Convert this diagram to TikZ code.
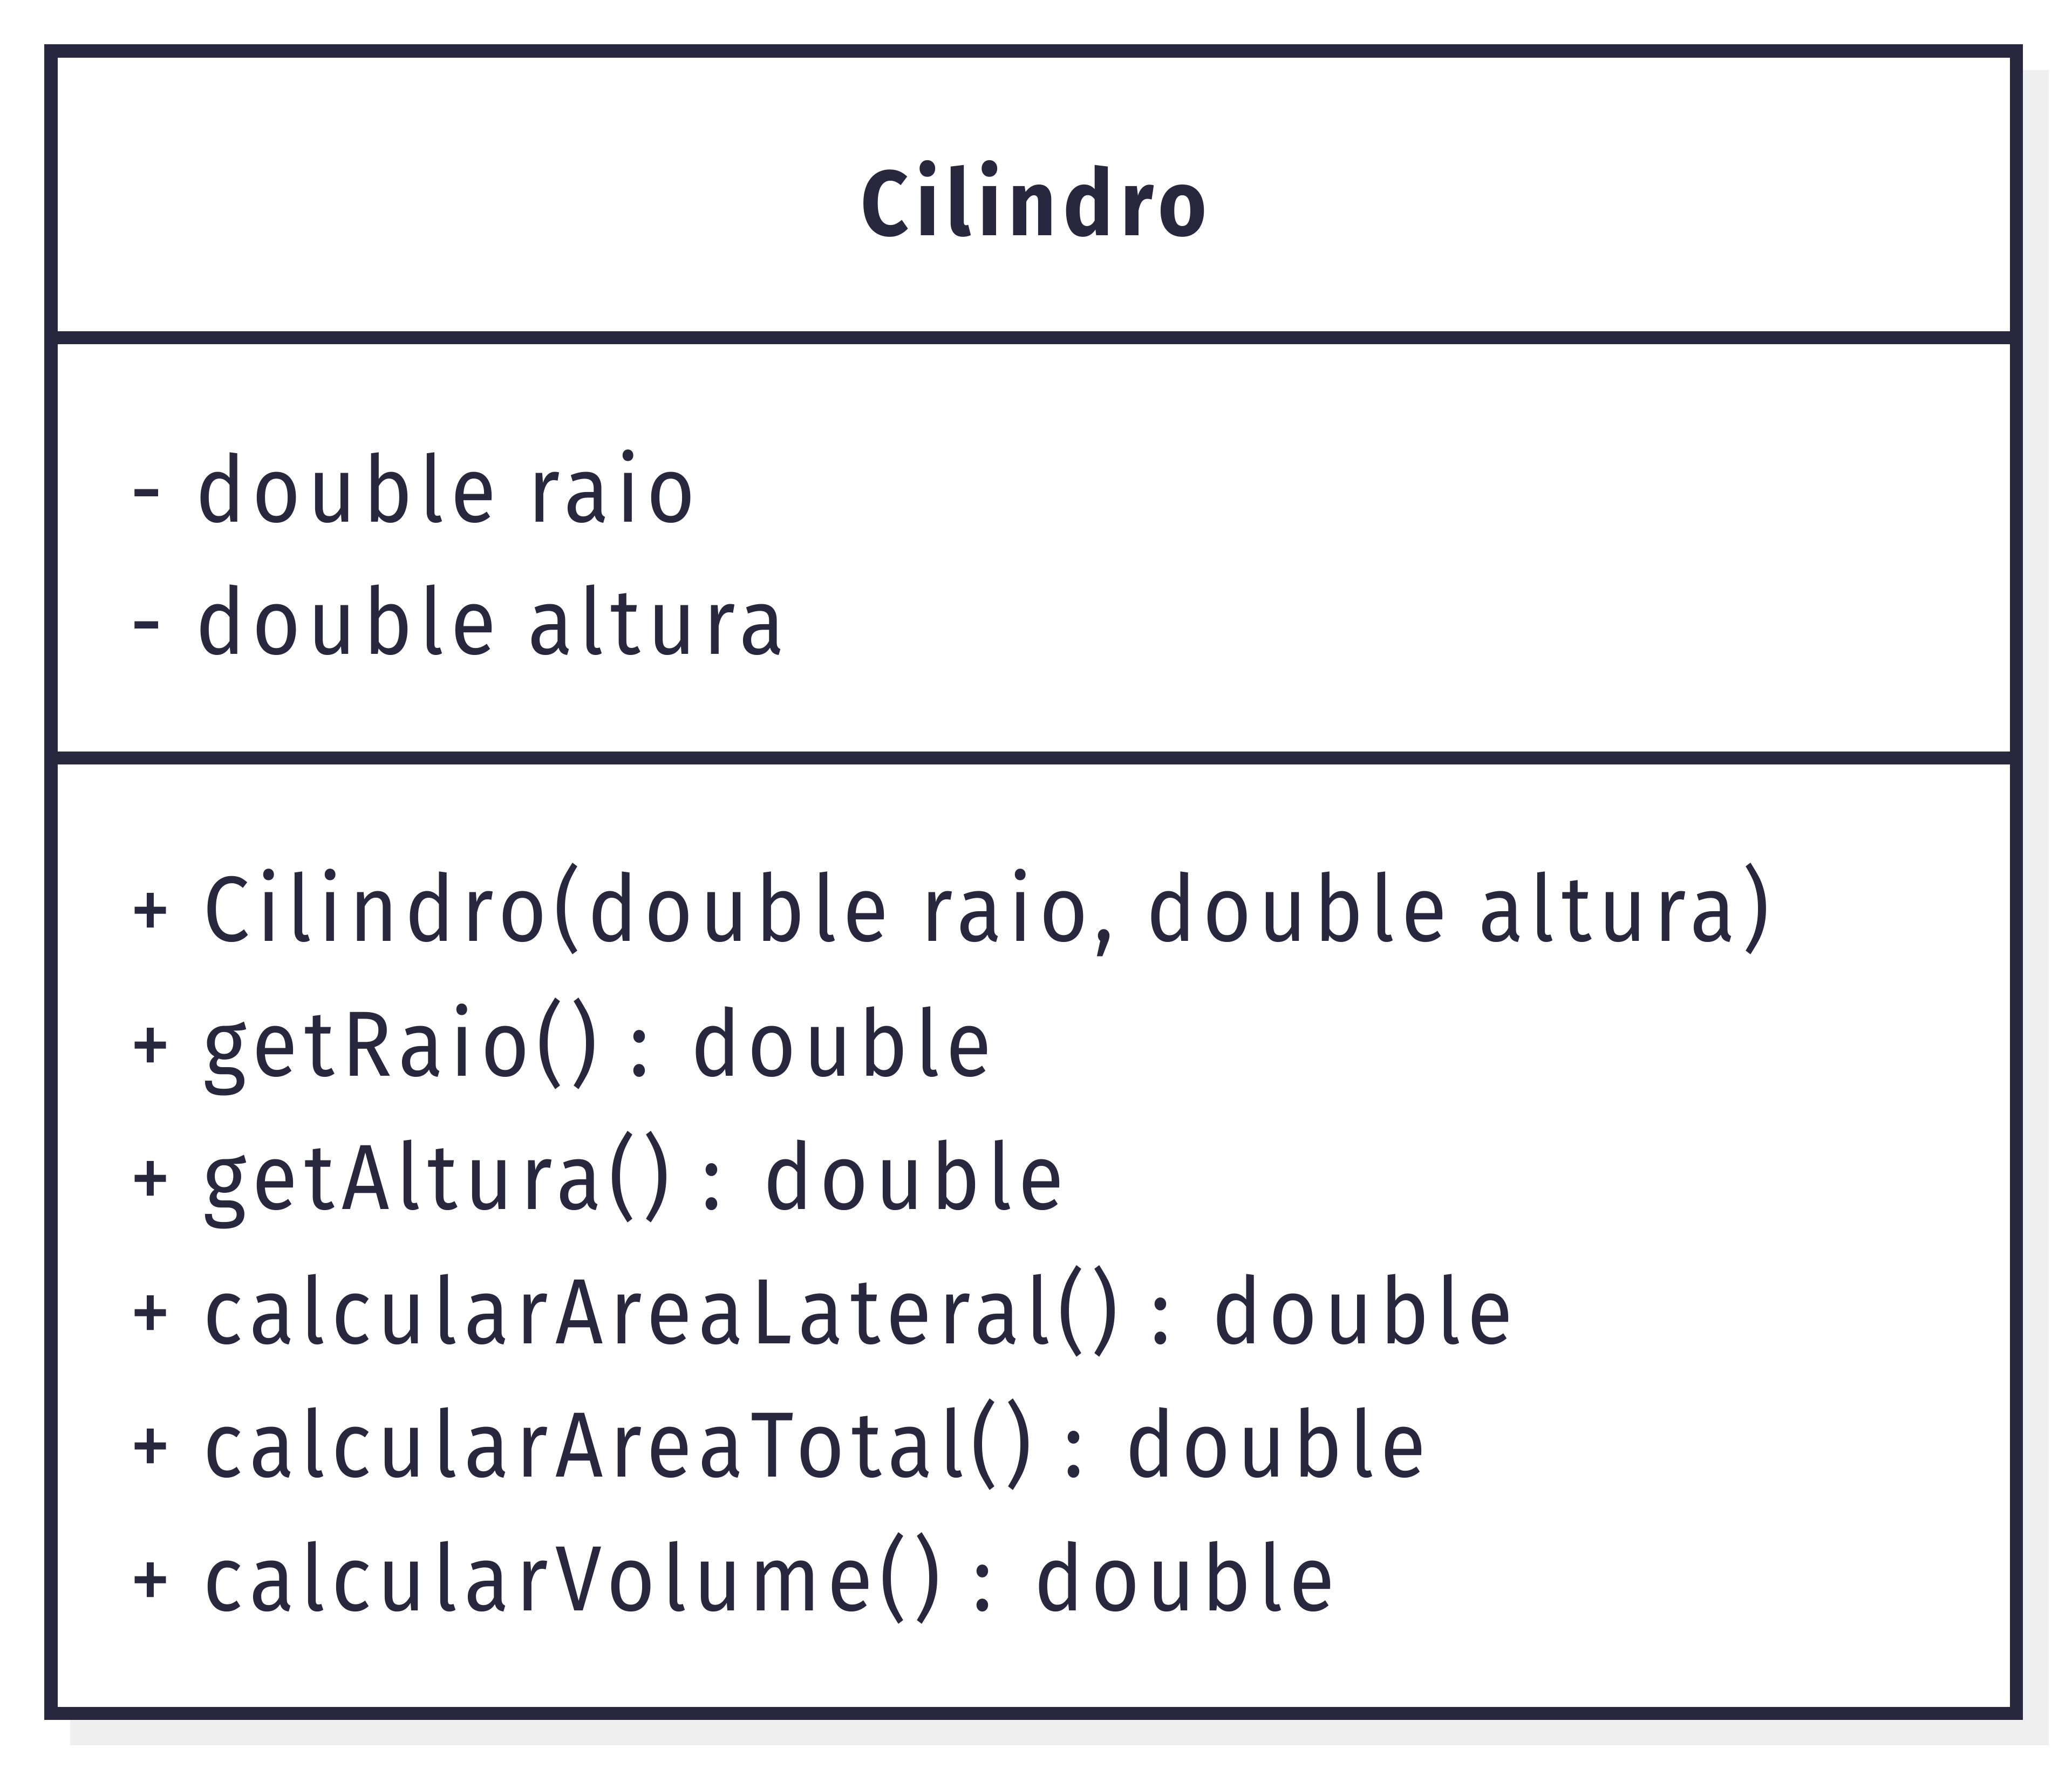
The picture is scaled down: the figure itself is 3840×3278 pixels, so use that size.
\documentclass[tikz,border=0pt]{standalone}
\usepackage{fontspec}
\newfontfamily\umlfont{Fira Sans}[FakeStretch=0.9,LetterSpace=7.5,WordSpace=1.1]
\definecolor{ink}{RGB}{40,39,62}
\definecolor{shadowgray}{RGB}{239,239,239}
\begin{document}
\begin{tikzpicture}[x=0.01cm,y=-0.01cm,
  frame/.style={draw=ink,line width=0.24cm,line cap=rect},
  member/.style={anchor=base west,inner sep=0pt,text=ink,
    font=\umlfont\fontsize{48.8}{60}\selectfont},
  title/.style={anchor=base,inner sep=0pt,text=ink,
    font=\umlfont\fontsize{48.8}{60}\selectfont\bfseries}]
\useasboundingbox (0,0) rectangle (3840,3278);
% drop shadow behind the class box
\fill[shadowgray] (130,130) rectangle (3797,3235);
% class box and compartment dividers
\fill[white] (94.5,94.5) rectangle (3737,3176);
\draw[frame] (94.5,94.5) rectangle (3737,3176);
\draw[frame] (94.5,626) -- (3737,626);
\draw[frame] (94.5,1405) -- (3737,1405);
% class name
\node[title] (name) at (1916,436) {Cilindro};
% attributes
\node[member] (a1) at (240,967) {- double raio};
\node[member] (a2) at (240,1212) {- double altura};
% operations
\node[member] (m1) at (240,1744) {+ Cilindro(double raio, double altura)};
\node[member] (m2) at (240,1994) {+ getRaio() : double};
\node[member] (m3) at (240,2241) {+ getAltura() : double};
\node[member] (m4) at (240,2490) {+ calcularAreaLateral() : double};
\node[member] (m5) at (240,2737) {+ calcularAreaTotal() : double};
\node[member] (m6) at (240,2985) {+ calcularVolume() : double};
\end{tikzpicture}
\end{document}
